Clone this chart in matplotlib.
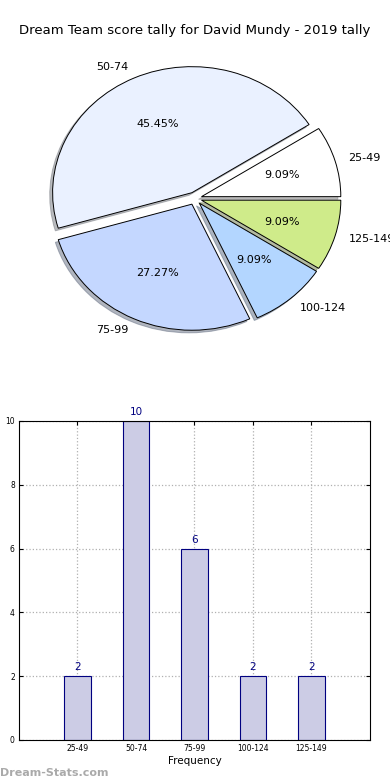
import matplotlib.pyplot as plt

# score intervals and how often each occurred
intervals = ['25-49', '50-74', '75-99', '100-124', '125-149']
counts = [1, 5, 3, 1, 1]
bar_counts = [2, 10, 6, 2, 2]
slice_colors = ['#FFFFFF', '#EAF1FF', '#C4D7FF', '#B3D6FF', '#CFEB8A']

fig = plt.figure(figsize=(3.9, 7.8), dpi=100)

fig.text(0.5, 0.961, 'Dream Team score tally for David Mundy - 2019 tally',
         ha='center', va='center', fontsize=9.5)

# Pie of score intervals (slightly squashed, like the original)
ax1 = fig.add_axes([0.053, 0.5436, 0.893, 0.404])
wedges, texts, autotexts = ax1.pie(
    counts, labels=intervals, colors=slice_colors, explode=[0.05] * 5,
    autopct='%1.2f%%', shadow={'ox': -0.015, 'oy': -0.015, 'shade': 0.5},
    startangle=0, wedgeprops=dict(edgecolor='black', linewidth=0.7),
    textprops=dict(fontsize=8))
ax1.set_aspect('auto')
ax1.set_xlim(-1.25, 1.25)
ax1.set_ylim(-1.25, 1.25)

# Bar chart of frequencies
ax2 = fig.add_axes([0.0487, 0.0513, 0.9, 0.4090])
x = list(range(len(intervals)))
bars = ax2.bar(x, bar_counts, width=0.45, color='#CCCCE5', edgecolor='#000080',
               linewidth=0.8, zorder=2)
for xi, v in zip(x, bar_counts):
    ax2.text(xi, v + 0.12, str(v), ha='center', va='bottom', fontsize=7.5,
             color='#000080')
ax2.set_xlim(-1, 5)
ax2.set_ylim(0, 10)
ax2.set_xticks(x)
ax2.set_xticklabels(intervals)
ax2.set_yticks([0, 2, 4, 6, 8, 10])
ax2.tick_params(axis='both', labelsize=5.5, direction='in', top=True, right=True,
                length=3, pad=3)
ax2.grid(True, linestyle=':', color='#b0b0b0', linewidth=0.9, zorder=0)
ax2.set_xlabel('Frequency', fontsize=7.5, labelpad=2)
ax2.set_ylabel('Occurrences', fontsize=7.5, labelpad=7)
for s in ax2.spines.values():
    s.set_linewidth(0.8)

fig.text(0.0, 0.003, 'Dream-Stats.com', fontsize=8, color='#aaaaaa',
         fontweight='bold', ha='left', va='bottom')

fig.savefig('out.png', dpi=100)
